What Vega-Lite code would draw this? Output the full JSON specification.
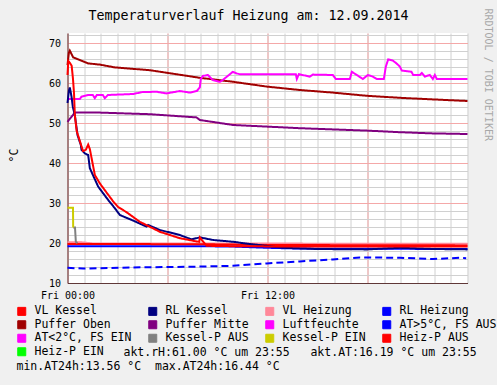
{
  "$schema": "https://vega.github.io/schema/vega-lite/v6.json",
  "width": 400,
  "height": 250,
  "autosize": {"type": "none"},
  "padding": {"left": 67.5, "top": 33, "right": 29.5, "bottom": 102},
  "background": "#f0f0f0",
  "config": {"view": {"stroke": null, "fill": "white"}, "font": "DejaVu Sans Mono"},
  "title": {"text": "Temperaturverlauf Heizung am: 12.09.2014", "font": "DejaVu Sans Mono", "fontSize": 13.3, "fontWeight": "normal", "color": "black", "anchor": "middle", "dx": -19, "offset": -14},
  "data": {"values": [
    {"s": "RL Heizung", "t": 0, "v": 19.2}, {"s": "RL Heizung", "t": 8, "v": 19.2}, {"s": "RL Heizung", "t": 10, "v": 19.1}, {"s": "RL Heizung", "t": 12, "v": 18.8}, {"s": "RL Heizung", "t": 14, "v": 18.6}, {"s": "RL Heizung", "t": 24, "v": 18.5},
    {"s": "VL Heizung", "t": 0, "v": 20.2}, {"s": "VL Heizung", "t": 0.8, "v": 20.2}, {"s": "VL Heizung", "t": 1.5, "v": 19.9}, {"s": "VL Heizung", "t": 24, "v": 19.8},
    {"s": "Heiz-P AUS", "t": 0, "v": 19.75}, {"s": "Heiz-P AUS", "t": 8, "v": 19.7}, {"s": "Heiz-P AUS", "t": 12, "v": 19.5}, {"s": "Heiz-P AUS", "t": 24, "v": 19.4},
    {"s": "AT>5°C, FS AUS", "t": 0, "v": 13.8}, {"s": "AT>5°C, FS AUS", "t": 0.94, "v": 13.6}, {"s": "AT>5°C, FS AUS", "t": 2.5, "v": 13.75}, {"s": "AT>5°C, FS AUS", "t": 3.94, "v": 13.9}, {"s": "AT>5°C, FS AUS", "t": 6, "v": 14.0}, {"s": "AT>5°C, FS AUS", "t": 7.94, "v": 14.1}, {"s": "AT>5°C, FS AUS", "t": 9.92, "v": 14.3}, {"s": "AT>5°C, FS AUS", "t": 11.96, "v": 14.9}, {"s": "AT>5°C, FS AUS", "t": 13.94, "v": 15.4}, {"s": "AT>5°C, FS AUS", "t": 15.92, "v": 15.9}, {"s": "AT>5°C, FS AUS", "t": 17.54, "v": 16.4}, {"s": "AT>5°C, FS AUS", "t": 19.94, "v": 16.3}, {"s": "AT>5°C, FS AUS", "t": 21.92, "v": 16.0}, {"s": "AT>5°C, FS AUS", "t": 23.54, "v": 16.3}, {"s": "AT>5°C, FS AUS", "t": 23.92, "v": 16.2},
    {"s": "Puffer Oben", "t": 0, "v": 64.5}, {"s": "Puffer Oben", "t": 0.08, "v": 67.5}, {"s": "Puffer Oben", "t": 0.14, "v": 68.1}, {"s": "Puffer Oben", "t": 0.34, "v": 66.4}, {"s": "Puffer Oben", "t": 1.24, "v": 64.9}, {"s": "Puffer Oben", "t": 1.94, "v": 64.6}, {"s": "Puffer Oben", "t": 2.84, "v": 63.9}, {"s": "Puffer Oben", "t": 4.94, "v": 63.2}, {"s": "Puffer Oben", "t": 7.94, "v": 61.3}, {"s": "Puffer Oben", "t": 9.94, "v": 60.3}, {"s": "Puffer Oben", "t": 11.96, "v": 59.1}, {"s": "Puffer Oben", "t": 13.94, "v": 58.25}, {"s": "Puffer Oben", "t": 15.92, "v": 57.6}, {"s": "Puffer Oben", "t": 17.96, "v": 56.8}, {"s": "Puffer Oben", "t": 19.94, "v": 56.3}, {"s": "Puffer Oben", "t": 21.92, "v": 55.9}, {"s": "Puffer Oben", "t": 24, "v": 55.5},
    {"s": "Puffer Mitte", "t": 0, "v": 50.3}, {"s": "Puffer Mitte", "t": 0.44, "v": 52.6}, {"s": "Puffer Mitte", "t": 1.94, "v": 52.6}, {"s": "Puffer Mitte", "t": 4.94, "v": 52.2}, {"s": "Puffer Mitte", "t": 7.74, "v": 51.4}, {"s": "Puffer Mitte", "t": 7.94, "v": 50.75}, {"s": "Puffer Mitte", "t": 9.94, "v": 49.5}, {"s": "Puffer Mitte", "t": 11.96, "v": 49.1}, {"s": "Puffer Mitte", "t": 13.94, "v": 48.7}, {"s": "Puffer Mitte", "t": 15.92, "v": 48.4}, {"s": "Puffer Mitte", "t": 17.96, "v": 48.1}, {"s": "Puffer Mitte", "t": 19.94, "v": 47.7}, {"s": "Puffer Mitte", "t": 21.92, "v": 47.4}, {"s": "Puffer Mitte", "t": 24, "v": 47.25},
    {"s": "Luftfeuchte", "t": 0, "v": 56}, {"s": "Luftfeuchte", "t": 0.74, "v": 56}, {"s": "Luftfeuchte", "t": 0.84, "v": 56.6}, {"s": "Luftfeuchte", "t": 1.24, "v": 57}, {"s": "Luftfeuchte", "t": 1.52, "v": 57}, {"s": "Luftfeuchte", "t": 1.64, "v": 56.2}, {"s": "Luftfeuchte", "t": 1.76, "v": 57}, {"s": "Luftfeuchte", "t": 2.12, "v": 57}, {"s": "Luftfeuchte", "t": 2.24, "v": 56.2}, {"s": "Luftfeuchte", "t": 2.42, "v": 57}, {"s": "Luftfeuchte", "t": 3.92, "v": 57.25}, {"s": "Luftfeuchte", "t": 4.52, "v": 57.75}, {"s": "Luftfeuchte", "t": 5.36, "v": 57.8}, {"s": "Luftfeuchte", "t": 5.94, "v": 57.4}, {"s": "Luftfeuchte", "t": 6.74, "v": 58}, {"s": "Luftfeuchte", "t": 7.34, "v": 57.6}, {"s": "Luftfeuchte", "t": 7.76, "v": 58}, {"s": "Luftfeuchte", "t": 7.94, "v": 58.9}, {"s": "Luftfeuchte", "t": 8.0, "v": 61}, {"s": "Luftfeuchte", "t": 8.12, "v": 61.75}, {"s": "Luftfeuchte", "t": 8.42, "v": 62}, {"s": "Luftfeuchte", "t": 8.72, "v": 60.75}, {"s": "Luftfeuchte", "t": 9.14, "v": 60.3}, {"s": "Luftfeuchte", "t": 9.32, "v": 60.75}, {"s": "Luftfeuchte", "t": 9.92, "v": 62.8}, {"s": "Luftfeuchte", "t": 10.14, "v": 62.4}, {"s": "Luftfeuchte", "t": 10.34, "v": 62.2}, {"s": "Luftfeuchte", "t": 13.7, "v": 62.2}, {"s": "Luftfeuchte", "t": 13.76, "v": 61}, {"s": "Luftfeuchte", "t": 13.88, "v": 62.2}, {"s": "Luftfeuchte", "t": 14.54, "v": 61.6}, {"s": "Luftfeuchte", "t": 14.72, "v": 62.1}, {"s": "Luftfeuchte", "t": 15.92, "v": 62}, {"s": "Luftfeuchte", "t": 16.1, "v": 61}, {"s": "Luftfeuchte", "t": 16.94, "v": 61}, {"s": "Luftfeuchte", "t": 17.06, "v": 62.8}, {"s": "Luftfeuchte", "t": 17.36, "v": 62}, {"s": "Luftfeuchte", "t": 17.72, "v": 61}, {"s": "Luftfeuchte", "t": 18.02, "v": 62}, {"s": "Luftfeuchte", "t": 18.32, "v": 61.6}, {"s": "Luftfeuchte", "t": 18.56, "v": 61}, {"s": "Luftfeuchte", "t": 18.98, "v": 61}, {"s": "Luftfeuchte", "t": 19.1, "v": 64.1}, {"s": "Luftfeuchte", "t": 19.24, "v": 65.9}, {"s": "Luftfeuchte", "t": 19.52, "v": 65.6}, {"s": "Luftfeuchte", "t": 19.74, "v": 64.9}, {"s": "Luftfeuchte", "t": 19.94, "v": 64.1}, {"s": "Luftfeuchte", "t": 20.06, "v": 63.1}, {"s": "Luftfeuchte", "t": 20.64, "v": 62.8}, {"s": "Luftfeuchte", "t": 20.74, "v": 62}, {"s": "Luftfeuchte", "t": 21.14, "v": 62}, {"s": "Luftfeuchte", "t": 21.26, "v": 62.5}, {"s": "Luftfeuchte", "t": 21.44, "v": 61.6}, {"s": "Luftfeuchte", "t": 21.74, "v": 62}, {"s": "Luftfeuchte", "t": 21.92, "v": 61}, {"s": "Luftfeuchte", "t": 22.04, "v": 62}, {"s": "Luftfeuchte", "t": 22.16, "v": 61}, {"s": "Luftfeuchte", "t": 24, "v": 61},
    {"s": "RL Kessel", "t": 0, "v": 55}, {"s": "RL Kessel", "t": 0.08, "v": 58}, {"s": "RL Kessel", "t": 0.14, "v": 58.9}, {"s": "RL Kessel", "t": 0.24, "v": 56.6}, {"s": "RL Kessel", "t": 0.32, "v": 54}, {"s": "RL Kessel", "t": 0.44, "v": 52}, {"s": "RL Kessel", "t": 0.6, "v": 47}, {"s": "RL Kessel", "t": 0.8, "v": 44.5}, {"s": "RL Kessel", "t": 0.84, "v": 43.3}, {"s": "RL Kessel", "t": 1.04, "v": 42.4}, {"s": "RL Kessel", "t": 1.24, "v": 42}, {"s": "RL Kessel", "t": 1.34, "v": 38.7}, {"s": "RL Kessel", "t": 1.84, "v": 34.1}, {"s": "RL Kessel", "t": 2.44, "v": 30.75}, {"s": "RL Kessel", "t": 2.84, "v": 28.7}, {"s": "RL Kessel", "t": 3.14, "v": 27}, {"s": "RL Kessel", "t": 3.94, "v": 25.6}, {"s": "RL Kessel", "t": 4.74, "v": 24.1}, {"s": "RL Kessel", "t": 4.84, "v": 24.5}, {"s": "RL Kessel", "t": 5.54, "v": 23.25}, {"s": "RL Kessel", "t": 6.74, "v": 22}, {"s": "RL Kessel", "t": 7.44, "v": 20.9}, {"s": "RL Kessel", "t": 7.94, "v": 21.4}, {"s": "RL Kessel", "t": 8.74, "v": 20.75}, {"s": "RL Kessel", "t": 9.94, "v": 20.3}, {"s": "RL Kessel", "t": 10.94, "v": 19.75}, {"s": "RL Kessel", "t": 12.94, "v": 18.8}, {"s": "RL Kessel", "t": 14.96, "v": 18.5}, {"s": "RL Kessel", "t": 17.96, "v": 18.4}, {"s": "RL Kessel", "t": 19.94, "v": 18.8}, {"s": "RL Kessel", "t": 22, "v": 18.5}, {"s": "RL Kessel", "t": 24, "v": 18.4},
    {"s": "VL Kessel", "t": 0, "v": 62}, {"s": "VL Kessel", "t": 0.05, "v": 65.5}, {"s": "VL Kessel", "t": 0.15, "v": 65}, {"s": "VL Kessel", "t": 0.25, "v": 64.3}, {"s": "VL Kessel", "t": 0.33, "v": 61}, {"s": "VL Kessel", "t": 0.39, "v": 57.5}, {"s": "VL Kessel", "t": 0.44, "v": 52}, {"s": "VL Kessel", "t": 0.55, "v": 48}, {"s": "VL Kessel", "t": 0.74, "v": 45.5}, {"s": "VL Kessel", "t": 0.93, "v": 43}, {"s": "VL Kessel", "t": 1.1, "v": 43.3}, {"s": "VL Kessel", "t": 1.24, "v": 44.6}, {"s": "VL Kessel", "t": 1.34, "v": 43.5}, {"s": "VL Kessel", "t": 1.64, "v": 37}, {"s": "VL Kessel", "t": 1.94, "v": 34.9}, {"s": "VL Kessel", "t": 2.24, "v": 33.2}, {"s": "VL Kessel", "t": 2.74, "v": 30.4}, {"s": "VL Kessel", "t": 3.04, "v": 29}, {"s": "VL Kessel", "t": 3.54, "v": 27.7}, {"s": "VL Kessel", "t": 4.34, "v": 25.3}, {"s": "VL Kessel", "t": 5.54, "v": 22.8}, {"s": "VL Kessel", "t": 6.74, "v": 21.2}, {"s": "VL Kessel", "t": 7.74, "v": 20.4}, {"s": "VL Kessel", "t": 7.9, "v": 20.3}, {"s": "VL Kessel", "t": 7.94, "v": 21.4}, {"s": "VL Kessel", "t": 8.34, "v": 19.3}, {"s": "VL Kessel", "t": 10, "v": 19.2}, {"s": "VL Kessel", "t": 14, "v": 19.1}, {"s": "VL Kessel", "t": 18, "v": 19.1}, {"s": "VL Kessel", "t": 24, "v": 19.1},
    {"s": "Kessel-P AUS", "t": 0.34, "v": 23.9}, {"s": "Kessel-P AUS", "t": 0.45, "v": 23.9}, {"s": "Kessel-P AUS", "t": 0.5, "v": 20.3}, {"s": "Kessel-P AUS", "t": 0.6, "v": 20.0},
    {"s": "Kessel-P EIN", "t": 0, "v": 28.8}, {"s": "Kessel-P EIN", "t": 0.33, "v": 28.8}, {"s": "Kessel-P EIN", "t": 0.34, "v": 23.9}
  ]},
  "layer": [
    {
      "mark": {"type": "point", "opacity": 0},
      "encoding": {
        "x": {"field": "t", "type": "quantitative", "scale": {"domain": [0, 24], "nice": false, "zero": false},
          "axis": {"orient": "bottom", "values": [0,1,2,3,4,5,6,7,8,9,10,11,12,13,14,15,16,17,18,19,20,21,22,23,24], "labels": false, "ticks": false, "domain": false, "grid": true, "gridColor": "#d0d0d0", "gridWidth": 1, "gridOpacity": 1,
            "title": "akt.rH:61.00 °C um 23:55\u00a0\u00a0 akt.AT:16.19 °C um 23:55", "titleFont": "DejaVu Sans Mono", "titleFontSize": 11.5, "titleFontWeight": "normal", "titleColor": "black", "titleAlign": "left", "titleBaseline": "middle", "titleX": 55.5, "titleY": 69.5}},
        "y": {"field": "v", "type": "quantitative", "scale": {"domain": [10, 72.5], "nice": false, "zero": false},
          "axis": {"orient": "left", "values": [10,12,14,16,18,20,22,24,26,28,30,32,34,36,38,40,42,44,46,48,50,52,54,56,58,60,62,64,66,68,70,72], "labels": false, "ticks": false, "domain": false, "grid": true, "gridColor": "#d0d0d0", "gridWidth": 1, "gridOpacity": 1, "title": null}}
      }
    },
    {
      "mark": {"type": "line", "strokeWidth": 2},
      "encoding": {
        "x": {"field": "t", "type": "quantitative",
          "axis": {"orient": "bottom", "values": [0, 6, 12, 18], "labelExpr": "datum.value == 0 ? 'Fri 00:00' : (datum.value == 12 ? 'Fri 12:00' : '')", "labelFont": "DejaVu Sans Mono", "labelFontSize": 10, "labelColor": "black", "labelPadding": 7, "labelFlush": false, "labelOverlap": false, "ticks": false, "domain": true, "domainColor": "#603838", "grid": true, "gridColor": "#f4a8a8", "title": null}},
        "y": {"field": "v", "type": "quantitative",
          "axis": {"orient": "left", "values": [10, 20, 30, 40, 50, 60, 70], "labelFont": "DejaVu Sans Mono", "labelFontSize": 10, "labelColor": "black", "labelPadding": 7, "ticks": false, "domain": true, "domainColor": "#603838", "grid": true, "gridColor": "#f4a8a8", "title": "°C", "titleFont": "DejaVu Sans Mono", "titleFontSize": 11.5, "titleFontWeight": "normal", "titleColor": "black", "titleAngle": -90, "titleX": -53, "titleY": 122, "titleAlign": "center", "titleBaseline": "middle"}},
        "color": {"field": "s", "type": "nominal",
          "scale": {
            "domain": ["VL Kessel", "RL Kessel", "VL Heizung", "RL Heizung", "Puffer Oben", "Puffer Mitte", "Luftfeuchte", "AT>5°C, FS AUS", "AT<2°C, FS EIN", "Kessel-P AUS", "Kessel-P EIN", "Heiz-P AUS", "Heiz-P EIN"],
            "range": ["#ff0000", "#000080", "#ff8899", "#0000ff", "#a00000", "#800080", "#ff00ff", "#0000ff", "#ff00ff", "#808080", "#cccc00", "#ff0000", "#00ff00"]
          },
          "legend": {
            "orient": "none", "legendX": -51.5, "legendY": 272.5, "direction": "horizontal", "columns": 4, "gridAlign": "each", "columnPadding": 14, "rowPadding": 0.5,
            "title": null, "padding": 0, "symbolType": "square", "symbolSize": 64, "symbolStrokeWidth": 1, "symbolStrokeColor": "black",
            "labelFont": "DejaVu Sans Mono", "labelFontSize": 11.5, "labelColor": "black", "labelOffset": 7, "labelLimit": 400,
            "encode": {
              "symbols": {"update": {
                "fill": {"scale": "color", "field": "value"},
                "stroke": {"value": "black"},
                "strokeWidth": {"value": 1},
                "opacity": {"value": 1}
              }}
            }
          }
        },
        "strokeDash": {"condition": {"test": "datum.s == 'AT>5°C, FS AUS'", "value": [7, 4]}, "value": [1, 0]}
      }
    },
    {
      "mark": {"type": "point", "opacity": 0},
      "encoding": {
        "x": {"field": "t", "type": "quantitative",
          "axis": {"orient": "bottom", "labels": false, "ticks": false, "domain": false, "grid": false,
            "title": "min.AT24h:13.56 °C\u00a0 max.AT24h:16.44 °C", "titleFont": "DejaVu Sans Mono", "titleFontSize": 11.5, "titleFontWeight": "normal", "titleColor": "black", "titleAlign": "left", "titleBaseline": "middle", "titleX": -51.5, "titleY": 83.5}},
        "y": {"field": "v", "type": "quantitative",
          "axis": {"orient": "right", "labels": false, "ticks": false, "domain": false, "grid": false, "title": "RRDTOOL / TOBI OETIKER", "titleFont": "DejaVu Sans Mono", "titleFontSize": 10, "titleFontWeight": "normal", "titleColor": "#a8a8a8", "titleAngle": 90, "titleAlign": "left", "titleBaseline": "middle", "titleX": 19.5, "titleY": -25}}
      }
    }
  ],
  "resolve": {"axis": {"x": "independent", "y": "independent"}}
}
